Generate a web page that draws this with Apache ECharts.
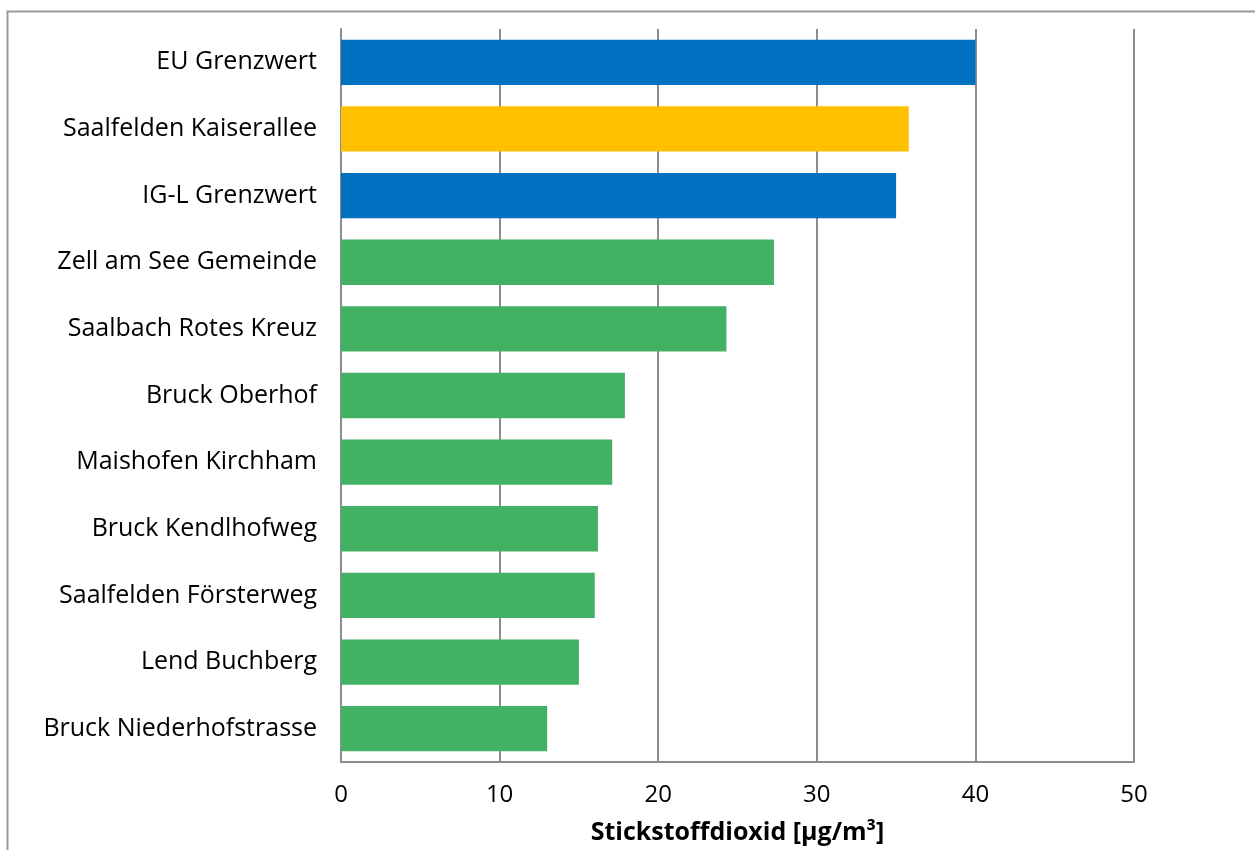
<!DOCTYPE html>
<html>
<head>
<meta charset="utf-8">
<script src="https://cdn.jsdelivr.net/npm/echarts@6/dist/echarts.min.js"></script>
<style>
  html, body { margin: 0; padding: 0; background: #fff; }
  #chart { width: 1255px; height: 850px; }
</style>
</head>
<body>
<div id="chart"></div>
<script>
// Messstellen (von oben nach unten)
var stationen = ['EU Grenzwert', 'Saalfelden Kaiserallee', 'IG-L Grenzwert', 'Zell am See Gemeinde',
    'Saalbach Rotes Kreuz', 'Bruck Oberhof', 'Maishofen Kirchham', 'Bruck Kendlhofweg',
    'Saalfelden Försterweg', 'Lend Buchberg', 'Bruck Niederhofstrasse'];
// NO2 Jahresmittel [µg/m³]
var werte = [40, 35.8, 35, 27.3, 24.3, 17.9, 17.1, 16.2, 16.0, 15.0, 13.0];
var farben = ['#0070C0', '#FFC000', '#0070C0', '#43B164', '#43B164', '#43B164',
    '#43B164', '#43B164', '#43B164', '#43B164', '#43B164'];
var xTicks = [0, 10, 20, 30, 40, 50];

var chart = echarts.init(document.getElementById('chart'));
var fontName = 'Open Sans';

var barData = [];
for (var i = 0; i < werte.length; i++) {
    barData.push({ value: werte[i], itemStyle: { color: farben[i] } });
}

var option = {
    backgroundColor: '#fff',
    animation: false,
    graphic: [{
        type: 'rect',
        shape: { x: 7.5, y: 11.5, width: 1260, height: 860 },
        style: { fill: 'none', stroke: '#999', lineWidth: 2 }
    }],
    grid: { left: 341, top: 29, width: 793, height: 733, containLabel: false },
    xAxis: {
        type: 'value',
        min: xTicks[0],
        max: xTicks[xTicks.length - 1],
        interval: 10,
        name: 'Stickstoffdioxid [µg/m³]',
        nameLocation: 'middle',
        nameGap: 58,
        nameTextStyle: { fontFamily: fontName, fontSize: 25, fontWeight: 'bold', color: '#000' },
        axisLine: { show: true, lineStyle: { color: '#8c8c8c', width: 2 } },
        axisTick: { show: false },
        axisLabel: { fontFamily: fontName, fontSize: 24, color: '#000', margin: 21 },
        splitLine: { show: true, lineStyle: { color: '#8c8c8c', width: 2 } }
    },
    yAxis: {
        type: 'category',
        inverse: true,
        data: stationen,
        axisLine: { show: true, lineStyle: { color: '#8c8c8c', width: 2 } },
        axisTick: { show: false },
        axisLabel: { fontFamily: fontName, fontSize: 25, color: '#000', margin: 24 },
        splitLine: { show: false }
    },
    series: [{
        type: 'bar',
        data: barData,
        barCategoryGap: '32%'
    }]
};
chart.setOption(option);
</script>
</body>
</html>
